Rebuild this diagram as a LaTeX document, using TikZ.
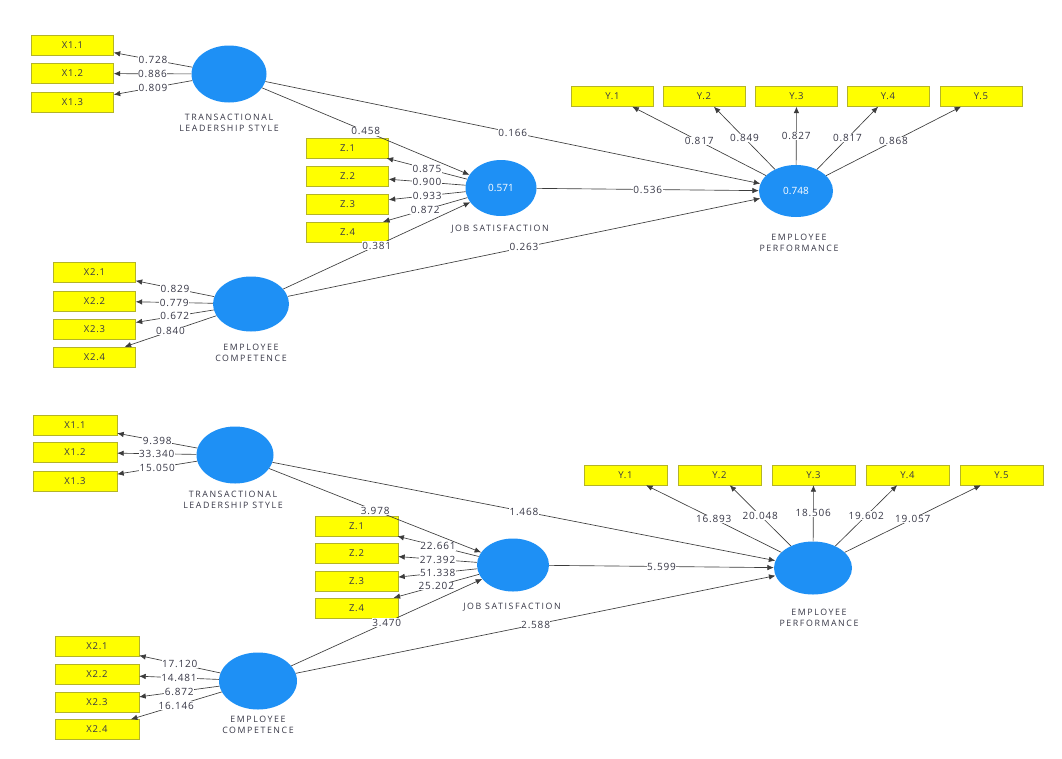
\documentclass[tikz,border=0pt]{standalone}
\usepackage{fontspec}
\setmainfont{Open Sans}
\usetikzlibrary{arrows.meta,shapes.geometric}
\definecolor{lvblue}{RGB}{30,144,245}
\definecolor{indyel}{RGB}{255,255,0}
\definecolor{indborder}{RGB}{180,180,40}
\definecolor{txt}{RGB}{55,55,70}
\definecolor{linec}{RGB}{60,60,60}
\begin{document}
\begin{tikzpicture}[x=1pt,y=-1pt,
 ind/.style={draw=indborder, fill=indyel, minimum width=82pt, minimum height=20pt, inner sep=0pt, font=\fontsize{9.5}{10}\selectfont\addfontfeatures{LetterSpace=8}, text=txt},
 lv/.style={ellipse, fill=lvblue, draw=none, inner sep=0pt, text=white, font=\fontsize{10}{11}\selectfont},
 lvname/.style={align=center, font=\fontsize{8.8}{11.5}\selectfont\addfontfeatures{LetterSpace=18}, text=txt},
 conn/.style={draw=linec, line width=0.65pt, -{Latex[length=6.5pt,width=5.5pt]}},
 num/.style={fill=white, inner sep=0.5pt, font=\fontsize{10}{11}\selectfont\addfontfeatures{LetterSpace=8}, text=txt}]
\useasboundingbox[fill=white] (0,0) rectangle (1062,758);

% ================= TOP MODEL =================
\node[ind] (ax11) at (72.5,45) {X1.1};
\node[ind] (ax12) at (72.5,73.5) {X1.2};
\node[ind] (ax13) at (72.5,102) {X1.3};
\node[lv, minimum width=75pt, minimum height=57pt] (atls) at (229,74) {};
\node[lvname] (atlsn) at (229,123) {TRANSACTIONAL\\LEADERSHIP STYLE};

\node[ind] (az1) at (347.5,148) {Z.1};
\node[ind] (az2) at (347.5,176) {Z.2};
\node[ind] (az3) at (347.5,204) {Z.3};
\node[ind] (az4) at (347.5,232) {Z.4};
\node[lv, minimum width=71pt, minimum height=56pt] (ajs) at (501,188) {0.571};
\node[lvname] (ajsn) at (500,229) {JOB SATISFACTION};

\node[lv, minimum width=74pt, minimum height=52pt] (aep) at (796,191) {0.748};
\node[lvname] (aepn) at (799,243) {EMPLOYEE\\PERFORMANCE};
\node[ind] (ay1) at (612.5,96.5) {Y.1};
\node[ind] (ay2) at (704,96.5) {Y.2};
\node[ind] (ay3) at (796.5,96.5) {Y.3};
\node[ind] (ay4) at (888,96.5) {Y.4};
\node[ind] (ay5) at (981,96.5) {Y.5};

\node[lv, minimum width=76pt, minimum height=55pt] (aec) at (251,304) {};
\node[lvname] (aecn) at (251,353) {EMPLOYEE\\COMPETENCE};
\node[ind] (ax21) at (94.5,272.5) {X2.1};
\node[ind] (ax22) at (94.5,301) {X2.2};
\node[ind] (ax23) at (94.5,329) {X2.3};
\node[ind] (ax24) at (94.5,357) {X2.4};

\draw[conn] (atls) -- node[num]{0.728} (ax11);
\draw[conn] (atls) -- node[num]{0.886} (ax12);
\draw[conn] (atls) -- node[num]{0.809} (ax13);
\draw[conn] (ajs) -- node[num]{0.875} (az1);
\draw[conn] (ajs) -- node[num]{0.900} (az2);
\draw[conn] (ajs) -- node[num]{0.933} (az3);
\draw[conn] (ajs) -- node[num]{0.872} (az4);
\draw[conn] (aec) -- node[num]{0.829} (ax21);
\draw[conn] (aec) -- node[num]{0.779} (ax22);
\draw[conn] (aec) -- node[num]{0.672} (ax23);
\draw[conn] (aec) -- node[num]{0.840} (ax24);
\draw[conn] (aep) -- node[num]{0.817} (ay1);
\draw[conn] (aep) -- node[num]{0.849} (ay2);
\draw[conn] (aep) -- node[num]{0.827} (ay3);
\draw[conn] (aep) -- node[num]{0.817} (ay4);
\draw[conn] (aep) -- node[num]{0.868} (ay5);
\draw[conn] (atls) -- node[num]{0.458} (ajs);
\draw[conn] (atls) -- node[num]{0.166} (aep);
\draw[conn] (aec) -- node[num]{0.381} (ajs);
\draw[conn] (aec) -- node[num]{0.263} (aep);
\draw[conn] (ajs) -- node[num]{0.536} (aep);

% ================= BOTTOM MODEL =================
\node[ind, minimum width=84pt] (bx11) at (75,425.5) {X1.1};
\node[ind, minimum width=84pt] (bx12) at (75,452.5) {X1.2};
\node[ind, minimum width=84pt] (bx13) at (75,481) {X1.3};
\node[lv, minimum width=77pt, minimum height=57pt] (btls) at (235,455) {};
\node[lvname] (btlsn) at (233,500) {TRANSACTIONAL\\LEADERSHIP STYLE};

\node[ind, minimum width=83pt] (bz1) at (356.5,526) {Z.1};
\node[ind, minimum width=83pt] (bz2) at (356.5,553.5) {Z.2};
\node[ind, minimum width=83pt] (bz3) at (356.5,581.5) {Z.3};
\node[ind, minimum width=83pt] (bz4) at (356.5,608) {Z.4};
\node[lv, minimum width=72pt, minimum height=53pt] (bjs) at (513,565) {};
\node[lvname] (bjsn) at (512,607) {JOB SATISFACTION};

\node[lv, minimum width=78pt, minimum height=53pt] (bep) at (813,568) {};
\node[lvname] (bepn) at (819,618) {EMPLOYEE\\PERFORMANCE};
\node[ind, minimum width=83pt] (by1) at (625.5,475) {Y.1};
\node[ind, minimum width=83pt] (by2) at (719.5,475) {Y.2};
\node[ind, minimum width=83pt] (by3) at (813.5,475) {Y.3};
\node[ind, minimum width=83pt] (by4) at (907.5,475) {Y.4};
\node[ind, minimum width=83pt] (by5) at (1001.5,475) {Y.5};

\node[lv, minimum width=78pt, minimum height=57pt] (bec) at (258,681) {};
\node[lvname] (becn) at (258,725) {EMPLOYEE\\COMPETENCE};
\node[ind, minimum width=84pt] (bx21) at (97,646.5) {X2.1};
\node[ind, minimum width=84pt] (bx22) at (97,674.5) {X2.2};
\node[ind, minimum width=84pt] (bx23) at (97,702.5) {X2.3};
\node[ind, minimum width=84pt] (bx24) at (97,729.5) {X2.4};

\draw[conn] (btls) -- node[num]{9.398} (bx11);
\draw[conn] (btls) -- node[num]{33.340} (bx12);
\draw[conn] (btls) -- node[num]{15.050} (bx13);
\draw[conn] (bjs) -- node[num]{22.661} (bz1);
\draw[conn] (bjs) -- node[num]{27.392} (bz2);
\draw[conn] (bjs) -- node[num]{51.338} (bz3);
\draw[conn] (bjs) -- node[num]{25.202} (bz4);
\draw[conn] (bec) -- node[num]{17.120} (bx21);
\draw[conn] (bec) -- node[num]{14.481} (bx22);
\draw[conn] (bec) -- node[num]{6.872} (bx23);
\draw[conn] (bec) -- node[num]{16.146} (bx24);
\draw[conn] (bep) -- node[num]{16.893} (by1);
\draw[conn] (bep) -- node[num]{20.048} (by2);
\draw[conn] (bep) -- node[num]{18.506} (by3);
\draw[conn] (bep) -- node[num]{19.602} (by4);
\draw[conn] (bep) -- node[num]{19.057} (by5);
\draw[conn] (btls) -- node[num]{3.978} (bjs);
\draw[conn] (btls) -- node[num]{1.468} (bep);
\draw[conn] (bec) -- node[num]{3.470} (bjs);
\draw[conn] (bec) -- node[num]{2.588} (bep);
\draw[conn] (bjs) -- node[num]{5.599} (bep);
\end{tikzpicture}
\end{document}
